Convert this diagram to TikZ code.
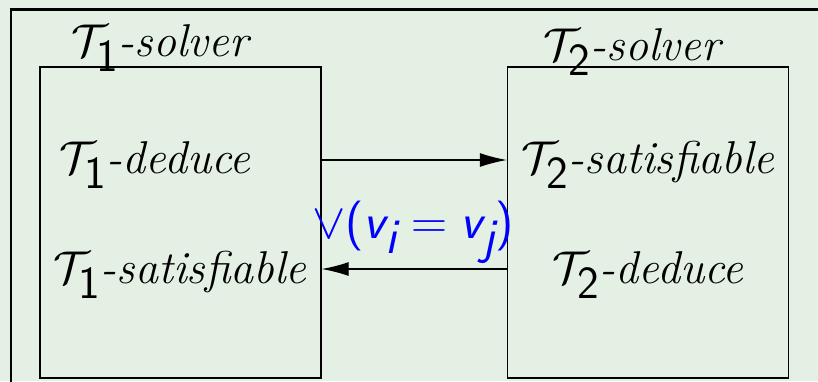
\RequirePackage{fix-cm}
\documentclass[tikz,border=0pt]{standalone}
\usetikzlibrary{arrows.meta}
\definecolor{bgcol}{RGB}{229,240,228}
\definecolor{formcol}{RGB}{0,0,255}
\DeclareMathSizes{46}{46}{32.2}{23}
\DeclareMathSizes{50}{50}{35}{25}
\newcommand{\Tsub}[1]{$\mathcal{T}_{\textsf{\upshape #1}}$}
\begin{document}
\begin{tikzpicture}[x=1pt,y=-1pt,
  boxnode/.style={draw, line width=1.3pt, minimum width=281pt, minimum height=311pt, inner sep=0pt},
  lbl/.style={anchor=base, font=\rmfamily\fontsize{46}{55}\selectfont\itshape, inner sep=0pt},
  formula/.style={anchor=base, text=formcol, font=\fontsize{50}{60}\selectfont, inner sep=0pt},
  conn/.style={line width=1.2pt, -{Latex[length=27pt,width=14pt]}}
]
\useasboundingbox[fill=bgcol] (0,0) rectangle (818,381);
\clip (0,0) rectangle (818,381);
\draw[line width=2.5pt] (840,9.5) -- (11,9.5) -- (11,400);
\node[boxnode] (lbox) at (180.5,222.5) {};
\node[boxnode] (rbox) at (648,222.5) {};
\node[lbl] (s1) at (160,56) {\Tsub{1}-solver};
\node[lbl] (s2) at (632,60) {\Tsub{2}-solver};
\node[lbl] (d1) at (155,173) {\Tsub{1}-deduce};
\node[lbl] (sat1) at (180,283) {\Tsub{1}-satisfiable};
\node[lbl] (sat2) at (648,173) {\Tsub{2}-satisfiable};
\node[lbl] (d2) at (648,283) {\Tsub{2}-deduce};
\node[formula] (f) at (413,238) {$\vee\textsf{(}\textsf{\itshape v}_{\textsf{\itshape i}} = \textsf{\itshape v}_{\textsf{\itshape j}}\textsf{)}$};
\coordinate (ya) at (0,160);
\coordinate (yb) at (0,269);
\draw[conn] (lbox.east |- ya) -- (rbox.west |- ya);
\draw[conn] (rbox.west |- yb) -- (lbox.east |- yb);
\end{tikzpicture}
\end{document}
